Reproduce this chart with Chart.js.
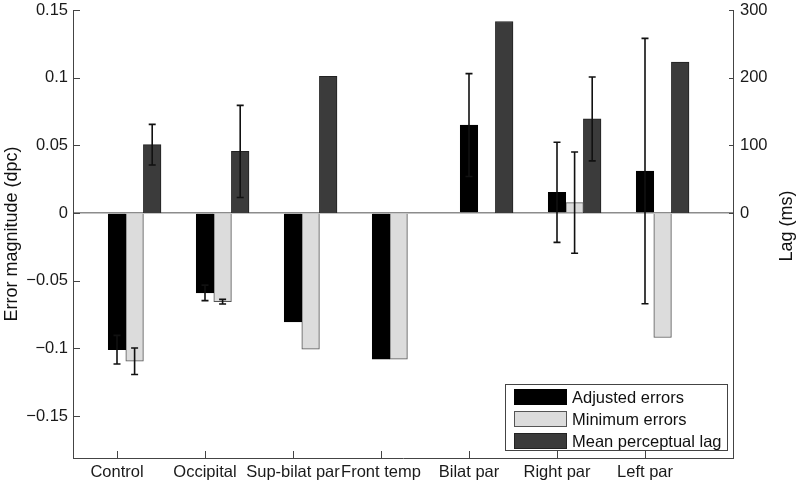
<!DOCTYPE html>
<html>
<head>
<meta charset="utf-8">
<script src="https://cdn.jsdelivr.net/npm/chart.js@4"></script>
<style>
  body { margin: 0; background: #fff; }
  #wrap { width: 800px; height: 483px; }
</style>
</head>
<body>
<div id="wrap"><canvas id="chart" width="800" height="483"></canvas></div>
<script>
// values
const categories = ["Control", "Occipital", "Sup-bilat par", "Front temp", "Bilat par", "Right par", "Left par"];
const adjusted    = [-0.101, -0.059, -0.0805, -0.108, 0.065, 0.0153, 0.031];
const adjustedErr = [0.0106, 0.0057, null, null, 0.038, 0.037, 0.098];
const minimum     = [-0.1095, -0.0655, -0.1005, -0.108, null, 0.0077, -0.092];
const minimumErr  = [0.0098, 0.0017, null, null, null, 0.0374, null];
const lag         = [101, 91, 202, null, 283, 139, 223];   // ms
const lagErr      = [30, 68, null, null, null, 62, null];
const errorTicks  = [-0.15, -0.1, -0.05, 0, 0.05, 0.1, 0.15];
const lagTicks    = [0, 100, 200, 300];

const FONT = "'Liberation Sans', Arial, sans-serif";
Chart.defaults.font.family = FONT;
Chart.defaults.font.size = 16.5;
Chart.defaults.color = '#1a1a1a';

// bars sit at the category tick, then shifted right by one bar width each
function place(values, shift) {
    return values.map((v, i) => ({ x: i + 1 + shift, y: v }));
}

function fmt(v) {
    if (Math.abs(v) < 1e-9) return '0';
    const s = String(+Math.abs(v).toFixed(2));
    return (v < 0 ? '\u2212' : '') + s;
}

// fixed axis sizes so the plot box lands where the figure has it
function fixWidth(w) {
    return (s) => { s.width = w; s.paddingTop = 0; s.paddingBottom = 0; };
}

// error bars, drawn with the dataset's own scales
const errorBars = {
    id: 'errorBars',
    afterDatasetsDraw(chart) {
        const ctx = chart.ctx;
        const xs = chart.scales.x;
        chart.data.datasets.forEach((ds) => {
            if (!ds.errors) return;
            const ys = chart.scales[ds.yAxisID];
            ctx.save();
            ctx.strokeStyle = '#111';
            ctx.lineWidth = 1.6;
            ds.data.forEach((p, i) => {
                const e = ds.errors[i];
                if (e == null || p.y == null) return;
                const x = xs.getPixelForValue(p.x);
                const y1 = ys.getPixelForValue(p.y + e);
                const y2 = ys.getPixelForValue(p.y - e);
                ctx.beginPath();
                ctx.moveTo(x, y1); ctx.lineTo(x, y2);
                ctx.moveTo(x - 3.5, y1); ctx.lineTo(x + 3.5, y1);
                ctx.moveTo(x - 3.5, y2); ctx.lineTo(x + 3.5, y2);
                ctx.stroke();
            });
            ctx.restore();
        });
    }
};

// inward tick marks, legend box and axis titles
const decorations = {
    id: 'decorations',
    afterDraw(chart) {
        const ctx = chart.ctx;
        const a = chart.chartArea;
        const { x, y, y1 } = chart.scales;
        ctx.save();
        ctx.strokeStyle = '#444';
        ctx.lineWidth = 1;
        ctx.beginPath();
        x.ticks.forEach(t => {
            const px = Math.round(x.getPixelForValue(t.value)) + 0.5;
            ctx.moveTo(px, a.bottom); ctx.lineTo(px, a.bottom - 7);
        });
        y.ticks.forEach(t => {
            const py = Math.round(y.getPixelForValue(t.value)) + 0.5;
            ctx.moveTo(a.left, py); ctx.lineTo(a.left + 7, py);
        });
        y1.ticks.forEach(t => {
            const py = Math.round(y1.getPixelForValue(t.value)) + 0.5;
            ctx.moveTo(a.right, py); ctx.lineTo(a.right - 4, py);
        });
        ctx.stroke();

        // legend
        const bw = 222, bh = 66;
        const bx = a.right - 228, by = a.bottom - 74;
        ctx.fillStyle = '#fff';
        ctx.fillRect(bx, by, bw, bh);
        ctx.strokeStyle = '#444';
        ctx.strokeRect(bx + 0.5, by + 0.5, bw, bh);
        ctx.font = '16.5px ' + FONT;
        ctx.textBaseline = 'middle';
        ctx.textAlign = 'left';
        chart.data.datasets.forEach((ds, i) => {
            const cy = by + 13 + i * 22;
            ctx.fillStyle = ds.backgroundColor;
            ctx.fillRect(bx + 9.5, cy - 7.5, 52, 15);
            ctx.strokeStyle = ds.borderColor;
            ctx.strokeRect(bx + 9.5, cy - 7.5, 52, 15);
            ctx.fillStyle = '#111';
            ctx.fillText(ds.label, bx + 67, cy + 1);
        });

        // axis titles
        ctx.font = '18px ' + FONT;
        ctx.textAlign = 'center';
        ctx.fillStyle = '#111';
        ctx.save();
        ctx.translate(12, (a.top + a.bottom) / 2);
        ctx.rotate(-Math.PI / 2);
        ctx.fillText('Error magnitude (dpc)', 0, 0);
        ctx.restore();
        ctx.save();
        ctx.translate(787, 226);
        ctx.rotate(-Math.PI / 2);
        ctx.fillText('Lag (ms)', 0, 0);
        ctx.restore();
        ctx.restore();
    }
};

new Chart(document.getElementById('chart'), {
    type: 'bar',
    data: {
        datasets: [
            {
                label: 'Adjusted errors',
                data: place(adjusted, 0),
                errors: adjustedErr,
                yAxisID: 'y',
                backgroundColor: '#000000',
                borderColor: '#000000',
                borderWidth: 1
            },
            {
                label: 'Minimum errors',
                data: place(minimum, 0.2),
                errors: minimumErr,
                yAxisID: 'y',
                backgroundColor: '#dcdcdc',
                borderColor: '#555555',
                borderWidth: 1
            },
            {
                label: 'Mean perceptual lag',
                data: place(lag, 0.4),
                errors: lagErr,
                yAxisID: 'y1',
                backgroundColor: '#3b3b3b',
                borderColor: '#222222',
                borderWidth: 1
            }
        ]
    },
    options: {
        responsive: false,
        animation: false,
        grouped: false,
        barPercentage: 1,
        categoryPercentage: 1,
        layout: { padding: { top: 10, left: 0, right: 0, bottom: 0 } },
        plugins: {
            legend: { display: false },
            tooltip: { enabled: false }
        },
        scales: {
            x: {
                type: 'linear',
                offset: false,
                min: 0.5,
                max: 8,
                afterBuildTicks: (s) => { s.ticks = categories.map((c, i) => ({ value: i + 1 })); },
                afterFit: (s) => { s.height = 25; s.paddingLeft = 0; s.paddingRight = 0; },
                grid: { display: false, drawTicks: false, offset: false },
                border: { display: true, color: '#444' },
                ticks: {
                    padding: 5,
                    autoSkip: false,
                    maxRotation: 0,
                    callback: (v) => categories[Math.round(v) - 1] || ''
                }
            },
            y: {
                position: 'left',
                min: -0.181,
                max: 0.15,
                afterBuildTicks: (s) => { s.ticks = errorTicks.map(v => ({ value: v })); },
                afterFit: fixWidth(73),
                grid: {
                    drawTicks: false,
                    color: (c) => (c.tick && Math.abs(c.tick.value) < 1e-9) ? '#8c8c8c' : 'rgba(0,0,0,0)',
                    lineWidth: 1.5
                },
                border: { display: true, color: '#444' },
                ticks: { padding: 5, callback: (v) => fmt(v) }
            },
            y1: {
                position: 'right',
                min: -362,
                max: 300,
                afterBuildTicks: (s) => { s.ticks = lagTicks.map(v => ({ value: v })); },
                afterFit: fixWidth(67),
                grid: { display: false, drawTicks: false },
                border: { display: true, color: '#444' },
                ticks: { padding: 7, callback: (v) => String(v) }
            }
        }
    },
    plugins: [errorBars, decorations]
});
</script>
</body>
</html>
